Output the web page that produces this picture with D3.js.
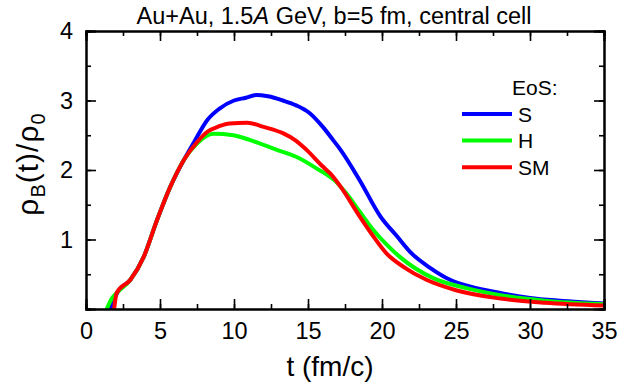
<!DOCTYPE html>
<html>
<head>
<meta charset="utf-8">
<script src="https://cdn.jsdelivr.net/npm/d3@7"></script>
<style>
  body { margin: 0; background: #fff; }
  svg { font-family: "Liberation Sans", Arial, sans-serif; }
  .line { fill: none; stroke-width: 4; stroke-linejoin: round; stroke-linecap: round; }
</style>
</head>
<body>
<div id="chart"></div>
<script>
// EoS S
var tS = [1.67, 1.9, 2.1, 3.0, 3.9, 4.8, 5.7, 6.6, 7.3, 8.2, 9.0, 10.0, 10.8, 11.5, 12.3, 13.3, 14.2, 15.1, 16.0, 16.7, 17.2, 18.5, 19.9, 21.0, 22.0, 23.2, 24.6, 26.0, 28.0, 30.0, 32.0, 35.0];
var rhoS = [0, 0.14, 0.23, 0.42, 0.75, 1.28, 1.76, 2.14, 2.40, 2.72, 2.88, 3.00, 3.04, 3.08, 3.06, 3.00, 2.93, 2.82, 2.62, 2.43, 2.29, 1.85, 1.33, 1.05, 0.80, 0.60, 0.42, 0.32, 0.23, 0.16, 0.12, 0.08];
// EoS H
var tH = [1.4, 1.74, 2.07, 3.0, 3.9, 4.8, 5.7, 6.6, 7.5, 8.6, 9.95, 11.1, 12.9, 14.2, 15.6, 16.9, 17.6, 18.5, 19.4, 20.3, 21.2, 23.5, 25.7, 28.0, 31.0, 35.0];
var rhoH = [0, 0.15, 0.23, 0.42, 0.75, 1.28, 1.76, 2.14, 2.38, 2.52, 2.50, 2.43, 2.29, 2.19, 2.02, 1.83, 1.66, 1.40, 1.14, 0.93, 0.75, 0.44, 0.30, 0.20, 0.12, 0.07];
// EoS SM
var tSM = [1.9, 2.07, 3.0, 3.9, 4.8, 5.7, 6.6, 7.5, 8.2, 9.0, 9.7, 10.9, 12.0, 13.3, 14.2, 14.9, 16.0, 16.5, 17.2, 18.5, 19.4, 20.3, 21.5, 23.0, 25.0, 28.0, 31.0, 35.0];
var rhoSM = [0, 0.23, 0.42, 0.75, 1.28, 1.76, 2.14, 2.40, 2.55, 2.63, 2.67, 2.68, 2.62, 2.53, 2.42, 2.29, 2.05, 1.95, 1.76, 1.33, 1.05, 0.80, 0.60, 0.42, 0.27, 0.15, 0.09, 0.05];

var seriesNames = ["S", "H", "SM"];
var seriesColors = ["#0000ff", "#00ff00", "#ff0000"];
var xTicks = [0, 5, 10, 15, 20, 25, 30, 35];
var yTicks = [1, 2, 3, 4];

var width = 630, height = 382;
var margin = { top: 31, right: 26, bottom: 73, left: 86 };
var w = width - margin.left - margin.right;
var h = height - margin.top - margin.bottom;

var svg = d3.select( "#chart" ).append( "svg" )
  .attr( "width", width )
  .attr( "height", height );

var x = d3.scaleLinear().domain( [0, 35] ).range( [0, w] );
var y = d3.scaleLinear().domain( [0, 4] ).range( [h, 0] );

var g = svg.append( "g" ).attr( "transform", "translate(" + margin.left + "," + margin.top + ")" );

// curves
var data = [
  tS.map( function ( t, i ) { return [t, rhoS[i]]; } ),
  tH.map( function ( t, i ) { return [t, rhoH[i]]; } ),
  tSM.map( function ( t, i ) { return [t, rhoSM[i]]; } )
];
var line = d3.line()
  .x( function ( d ) { return x( d[0] ); } )
  .y( function ( d ) { return y( d[1] ); } )
  .curve( d3.curveMonotoneX );

svg.append( "clipPath" ).attr( "id", "clip" ).append( "rect" )
  .attr( "width", w ).attr( "height", h );

g.append( "g" ).attr( "clip-path", "url(#clip)" )
  .selectAll( "path" )
  .data( data )
  .enter().append( "path" )
  .attr( "class", "line" )
  .attr( "stroke", function ( d, i ) { return seriesColors[i]; } )
  .attr( "d", line );

// frame with inward ticks
var minorX = d3.range( 0, 35.01, 2.5 );
var minorY = d3.range( 0, 4.01, 0.5 );

g.append( "g" ).attr( "transform", "translate(0," + h + ")" )
  .call( d3.axisBottom( x ).tickValues( minorX ).tickSize( -5 ).tickFormat( "" ) );
g.append( "g" ).attr( "transform", "translate(0," + h + ")" )
  .call( d3.axisBottom( x ).tickValues( xTicks ).tickSize( -10 ).tickPadding( 13 ).tickFormat( d3.format( "d" ) ) );
g.append( "g" )
  .call( d3.axisTop( x ).tickValues( minorX ).tickSize( -5 ).tickFormat( "" ) );
g.append( "g" )
  .call( d3.axisTop( x ).tickValues( xTicks ).tickSize( -10 ).tickFormat( "" ) );
g.append( "g" )
  .call( d3.axisLeft( y ).tickValues( minorY ).tickSize( -5 ).tickFormat( "" ) );
g.append( "g" )
  .call( d3.axisLeft( y ).tickValues( yTicks ).tickSize( -10 ).tickPadding( 13 ).tickFormat( d3.format( "d" ) ) );
g.append( "g" ).attr( "transform", "translate(" + w + ",0)" )
  .call( d3.axisRight( y ).tickValues( minorY ).tickSize( -5 ).tickFormat( "" ) );
g.append( "g" ).attr( "transform", "translate(" + w + ",0)" )
  .call( d3.axisRight( y ).tickValues( yTicks ).tickSize( -10 ).tickFormat( "" ) );

g.selectAll( ".domain" ).attr( "stroke", "#000" ).attr( "stroke-width", 2 );
g.selectAll( ".tick line" ).attr( "stroke", "#000" ).attr( "stroke-width", 1.6 );
g.selectAll( ".tick text" )
  .attr( "font-family", "Liberation Sans, Arial, sans-serif" )
  .attr( "font-size", 23.5 )
  .attr( "fill", "#000" );

// titles
svg.append( "text" )
  .attr( "x", 334 ).attr( "y", 24 )
  .attr( "text-anchor", "middle" )
  .attr( "font-size", 23.5 )
  .call( function ( t ) {
    t.append( "tspan" ).text( "Au+Au, 1.5" );
    t.append( "tspan" ).attr( "font-style", "italic" ).text( "A" );
    t.append( "tspan" ).text( " GeV, b=5 fm, central cell" );
  } );

svg.append( "text" )
  .attr( "x", 330 ).attr( "y", 376 )
  .attr( "text-anchor", "middle" )
  .attr( "font-size", 28 )
  .text( "t (fm/c)" );

var yl = svg.append( "text" )
  .attr( "transform", "translate(38,164) rotate(-90)" )
  .attr( "text-anchor", "middle" )
  .attr( "font-size", 30 )
  .attr( "letter-spacing", 1 );
yl.append( "tspan" ).text( "ρ" );
yl.append( "tspan" ).attr( "font-size", 20 ).attr( "dy", 7 ).text( "B" );
yl.append( "tspan" ).attr( "dy", -7 ).text( "(t)/ρ" );
yl.append( "tspan" ).attr( "font-size", 20 ).attr( "dy", 7 ).text( "0" );

// legend
var legend = svg.append( "g" ).attr( "transform", "translate(462,0)" );
legend.append( "text" ).attr( "x", 50 ).attr( "y", 95 ).attr( "font-size", 21 ).text( "EoS:" );
var items = legend.selectAll( ".item" )
  .data( seriesNames )
  .enter().append( "g" )
  .attr( "transform", function ( d, i ) { return "translate(0," + ( 114 + i * 26.6 ) + ")"; } );
items.append( "line" )
  .attr( "x1", 0 ).attr( "x2", 50 )
  .attr( "stroke", function ( d, i ) { return seriesColors[i]; } )
  .attr( "stroke-width", 4 );
items.append( "text" )
  .attr( "x", 56 ).attr( "dy", 7.5 )
  .attr( "font-size", 21 )
  .text( function ( d ) { return d; } );
</script>
</body>
</html>
